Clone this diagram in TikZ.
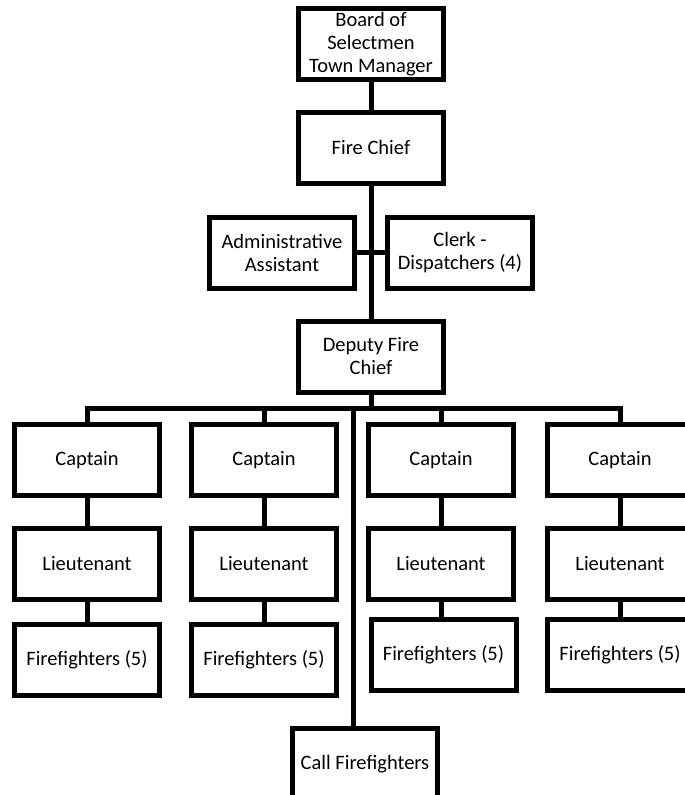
\documentclass[tikz,border=0pt]{standalone}
\usepackage{fontspec}
\setmainfont{Carlito}
\usepackage{tikz}
\usetikzlibrary{positioning}

\begin{document}
\begin{tikzpicture}[
  x=1pt,y=-1pt,
  box/.style={draw,line width=5pt,align=center,inner sep=1pt,fill=white,
              minimum width=145pt,minimum height=71pt,
              font=\fontsize{20.5}{23}\selectfont},
  link/.style={line width=5pt}
]
  \clip (0,0) rectangle (685,795);
  \node[box] (board) at (371,44) {Board of\\Selectmen\\Town Manager};
  \node[box] (chief) at (371,147.5) {Fire Chief};
  \node[box] (admin) at (282,252.5) {Administrative\\Assistant};
  \node[box] (clerk) at (460,252.5) {Clerk -\\Dispatchers (4)};
  \node[box] (deputy) at (371,356.5) {Deputy Fire\\Chief};
  \node[box] (capA) at (87,460) {Captain};
  \node[box] (capB) at (264,460) {Captain};
  \node[box] (capC) at (441,460) {Captain};
  \node[box] (capD) at (620,460) {Captain};
  \node[box] (ltA) at (87,563.5) {Lieutenant};
  \node[box] (ltB) at (264,563.5) {Lieutenant};
  \node[box] (ltC) at (441,563.5) {Lieutenant};
  \node[box] (ltD) at (620,563.5) {Lieutenant};
  \node[box] (ffA) at (87,659.5) {Firefighters (5)};
  \node[box] (ffB) at (264,659.5) {Firefighters (5)};
  \node[box] (ffC) at (443.5,654.5) {Firefighters (5)};
  \node[box] (ffD) at (620,654.5) {Firefighters (5)};
  \node[box] (call) at (365,764) {Call Firefighters};
  \coordinate (bus) at (371,408);
  \coordinate (split) at (353,408);
  \draw[link] (board) -- (chief);
  \draw[link] (chief) -- (deputy);
  \draw[link] (admin.east) -- (clerk.west);
  \draw[link] (deputy) -- (bus);
  \draw[link] (capA.north) |- (bus) -| (capD.north);
  \draw[link] (capB.north) -- (capB.north |- bus);
  \draw[link] (capC.north) -- (capC.north |- bus);
  \draw[link] (split) -- (split |- call.north);
  \draw[link] (capA) -- (ltA);
  \draw[link] (capB) -- (ltB);
  \draw[link] (capC) -- (ltC);
  \draw[link] (capD) -- (ltD);
  \draw[link] (ltA.south) -- (ltA.south |- ffA.north);
  \draw[link] (ltB.south) -- (ltB.south |- ffB.north);
  \draw[link] (ltC.south) -- (ltC.south |- ffC.north);
  \draw[link] (ltD.south) -- (ltD.south |- ffD.north);
\end{tikzpicture}
\end{document}
